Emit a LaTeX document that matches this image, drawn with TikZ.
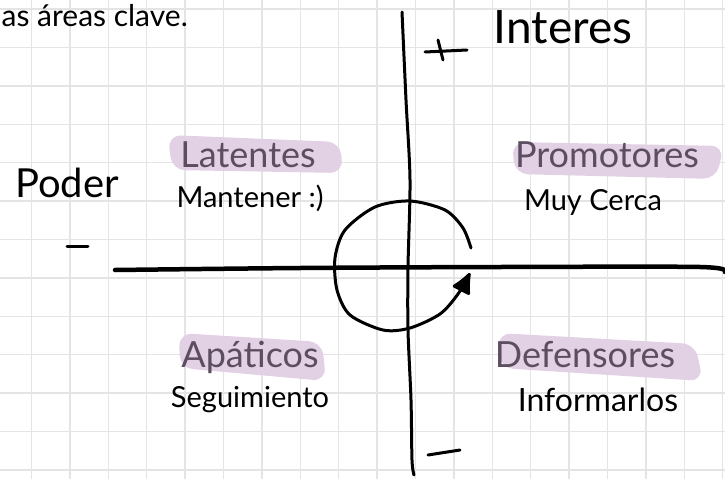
\documentclass[tikz,border=0pt]{standalone}
\usepackage{fontspec}
\setmainfont{Lato}
\usetikzlibrary{arrows.meta}
\definecolor{gridgray}{RGB}{228,228,230}
\definecolor{hlpink}{RGB}{226,208,228}
\definecolor{hltext}{RGB}{92,78,96}

\begin{document}
\begin{tikzpicture}[x=1pt,y=-1pt,
  gridline/.style={draw=gridgray, line width=1.4pt},
  hl/.style={fill=hlpink, rounded corners=13pt},
  quadtitle/.style={text=hltext, font=\fontsize{36}{40}\selectfont, anchor=base, inner sep=0pt},
  quadnote/.style={text=black, font=\fontsize{29}{32}\selectfont, anchor=base, inner sep=0pt},
  pen/.style={line width=3pt, line cap=round, line join=round}]
\useasboundingbox (0,0) rectangle (725,479);
\fill[white] (0,0) rectangle (725,479);
\foreach \gx in {0,...,19} \draw[gridline] (-6.9+38.4*\gx,0) -- ++(0,479);
\foreach \gy in {0,...,12} \draw[gridline] (0,9.1+38.4*\gy) -- ++(725,0);
\node[anchor=base east, inner sep=0pt, font=\fontsize{30}{33}\selectfont] (intro) at (188,26) {as áreas clave.};
\fill[hl] (168,135) -- (340,142) -- (343,173) -- (172,170) -- cycle;
\fill[hl] (512,142) -- (724,146) -- (716,179) -- (515,174) -- cycle;
\fill[hl] (179,333) -- (322,342) -- (326,381) -- (180,368) -- cycle;
\fill[hl] (498,333) -- (695,344) -- (703,381) -- (500,368) -- cycle;
\draw[pen] plot[smooth] coordinates {(402,12) (406,100) (410,180) (408,267) (408,330) (411,400) (412,460) (414,475)};
\draw[line width=4.5pt, line cap=round] plot[smooth] coordinates {(115,270) (300,268) (500,267) (700,267) (725,272)};
\draw[pen, -{Latex[length=24pt,width=22pt,round]}] plot[smooth] coordinates {(471,248) (463,228) (445,210) (410,201) (375,207) (345,230) (335,258) (337,290) (350,315) (383,330) (410,328) (440,314) (458,294) (470,273)};
\draw[pen] (425,52) -- (467,50);
\draw[pen] (438,40) -- (443,60);
\draw[pen] (67,246) -- (88,246);
\draw[pen] (428,455) -- (460,450);
\node[quadnote, font=\fontsize{46}{50}\selectfont] (interes) at (563,43) {Interes};
\node[quadnote, font=\fontsize{40}{44}\selectfont] (poder) at (67,197) {Poder};
\node[quadtitle] (latentes) at (248,167) {Latentes};
\node[quadnote] (mantener) at (250,207) {Mantener :)};
\node[quadtitle] (promotores) at (607,167) {Promotores};
\node[quadnote] (cerca) at (593,210) {Muy Cerca};
\node[quadtitle] (apaticos) at (250,367) {Apáticos};
\node[quadnote] (seguimiento) at (250,407) {Seguimiento};
\node[quadtitle] (defensores) at (585,367) {Defensores};
\node[quadnote, font=\fontsize{32}{35}\selectfont] (informarlos) at (598,411) {Informarlos};
\end{tikzpicture}
\end{document}
